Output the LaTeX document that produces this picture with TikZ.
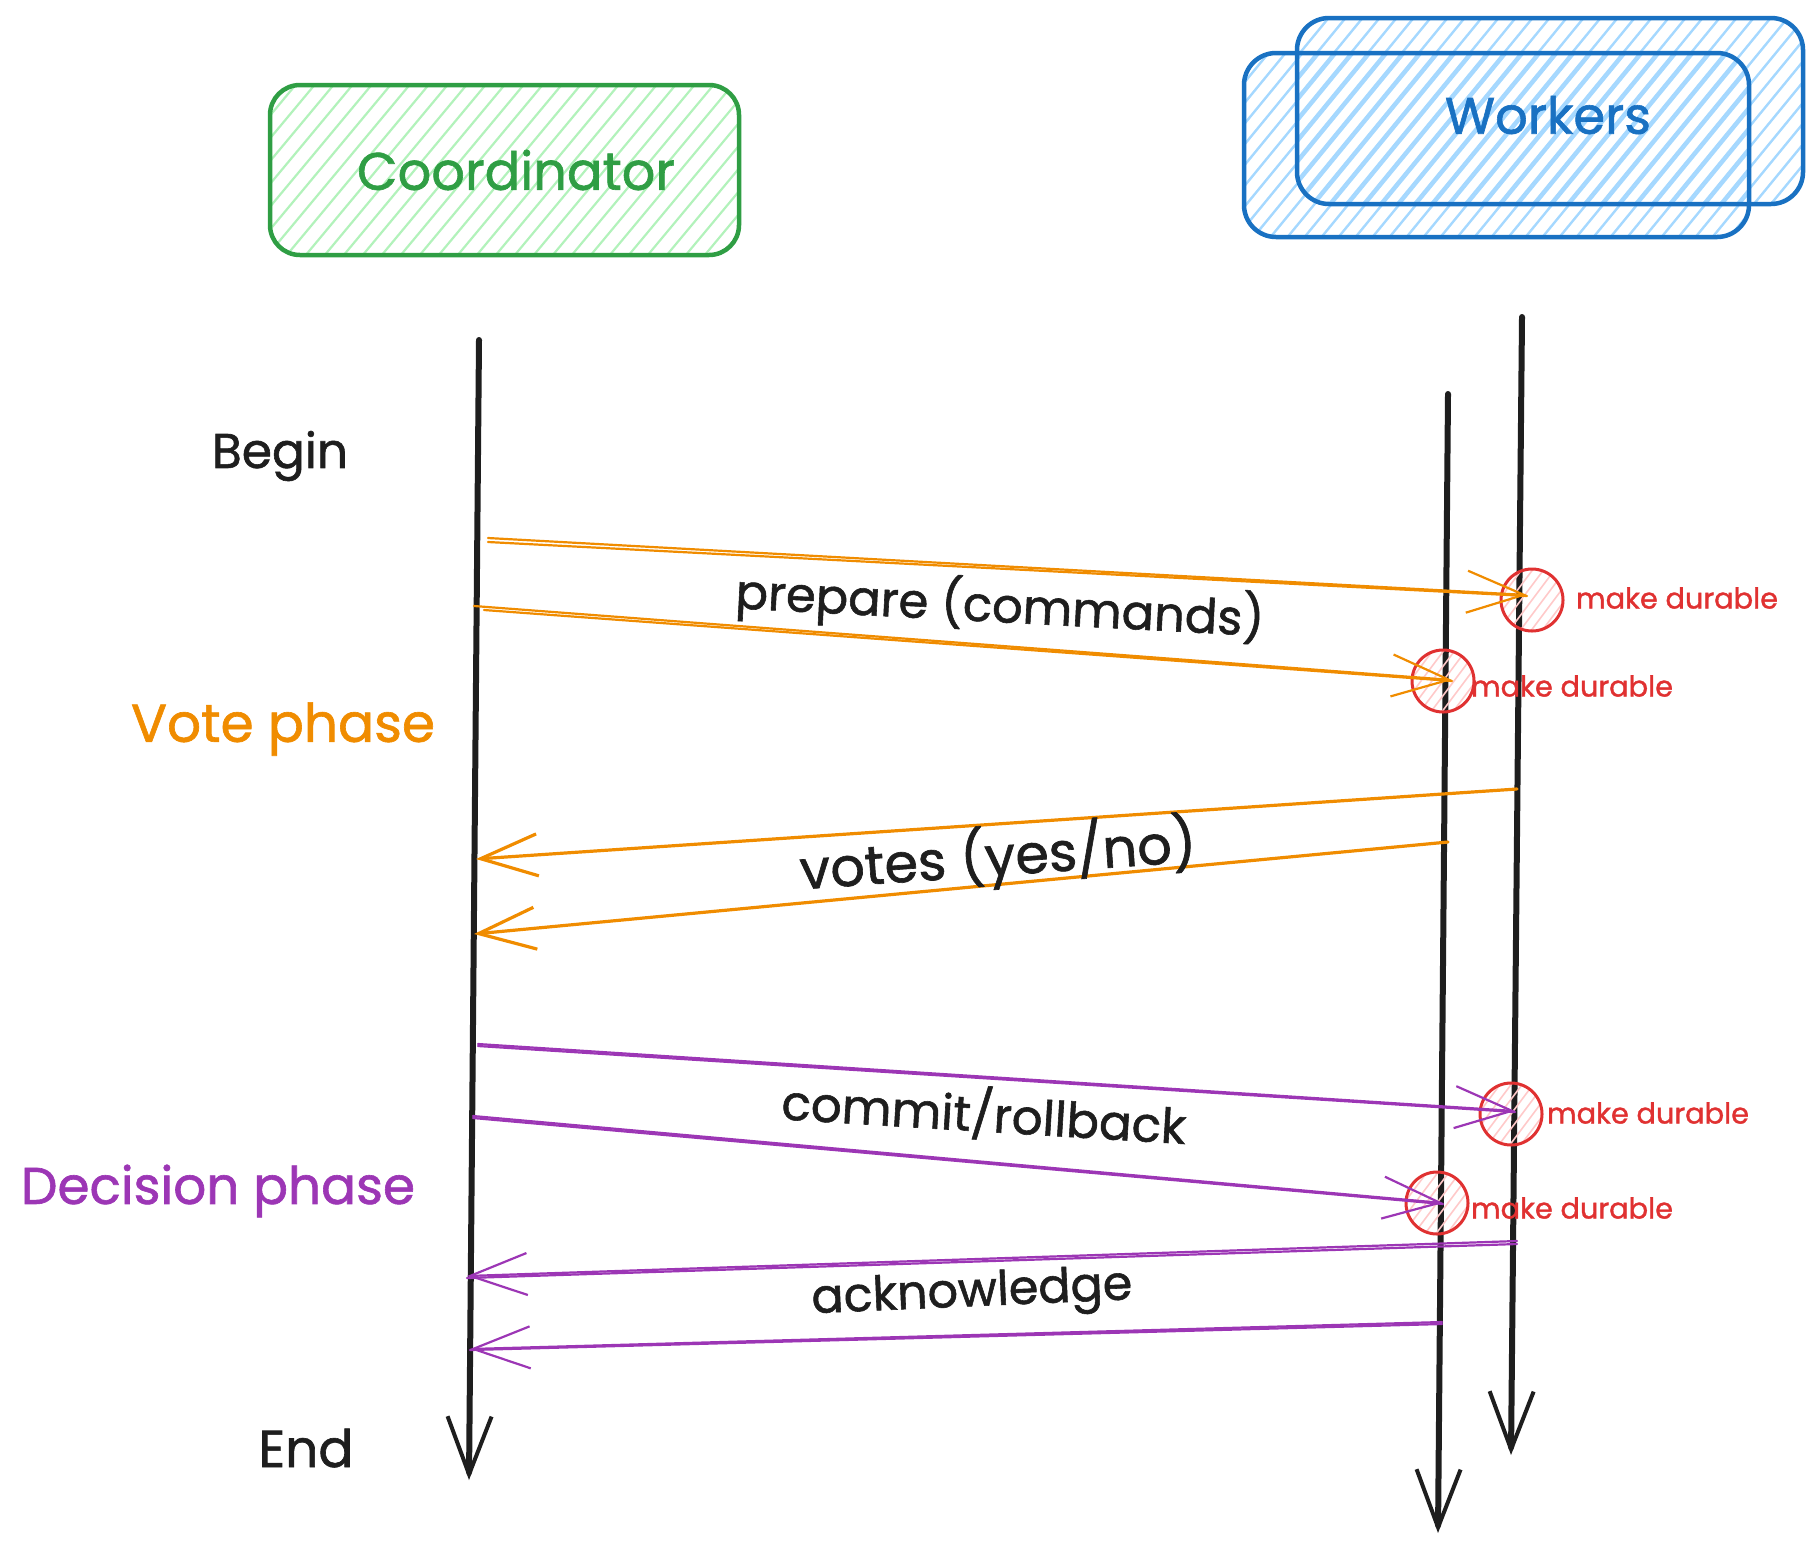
\documentclass[tikz,border=0pt]{standalone}
\usepackage{graphicx}
\usepackage{fontspec}
\setmainfont{Poppins}[FakeBold=1.2]
\usetikzlibrary{arrows.meta,calc}
\definecolor{ink}{HTML}{1E1E1E}
\definecolor{cgreen}{HTML}{2F9E44}
\definecolor{hgreen}{HTML}{B2F2BB}
\definecolor{cblue}{HTML}{1971C2}
\definecolor{hblue}{HTML}{A5D8FF}
\definecolor{cred}{HTML}{E03131}
\definecolor{hred}{HTML}{FFC9C9}
\definecolor{corange}{HTML}{F08C00}
\definecolor{cpurple}{HTML}{9C36B5}
\newcommand\fitw[2]{\resizebox{#1pt}{!}{#2}}
\begin{document}
\begin{tikzpicture}[x=1pt,y=-1pt,
  lbl/.style={inner sep=0pt, anchor=center},
  life/.style={ink, line width=6pt, line cap=round, -{Straight Barb[length=58pt,width=44pt,line width=4pt]}},
  msgtip/.style={-{Straight Barb[length=57pt,width=42pt]}},
  omsg/.style={corange, line width=2.2pt, line cap=round},
  omsgb/.style={corange, line width=3.2pt, line cap=round},
  pmsg/.style={cpurple, line width=2.2pt, line cap=round},
  ghatch/.style={hgreen, line width=2.2pt},
  bhatch/.style={hblue, line width=2.4pt},
  rhatch/.style={hred, line width=1.6pt},
  durable/.style={circle, draw=cred, line width=3pt, minimum size=62pt, inner sep=0pt,
    path picture={\foreach \k in {-6,...,6}{\draw[rhatch] ($(path picture bounding box.center)+(\k*11-30,40)$) -- ++(60,-80);}}},
  durtxt/.style={lbl, text=cred},
  roundbox/.style={draw, line width=4.5pt, inner sep=0pt}
]
\useasboundingbox (0,0) rectangle (1819,1551);

% ---------- Coordinator box ----------
\begin{scope}
  \clip[rounded corners=30pt] (270,85) rectangle (739,255);
  \foreach \x in {110,129,...,760} \draw[ghatch] (\x,262) -- ++(150,-180);
\end{scope}
\node[roundbox, draw=cgreen, rounded corners=30pt, minimum width=469pt, minimum height=170pt] (coordbox) at (504.5,170) {};
\node[lbl, text=cgreen] (coordtext) at (516,170) {\fitw{318}{Coordinator}};

% ---------- Workers boxes ----------
\begin{scope}
  \clip[rounded corners=32pt] (1297,18) rectangle (1803,204);
  \foreach \x in {1120,1137,...,1810} \draw[bhatch] (\x,210) -- ++(160,-195);
\end{scope}
\begin{scope}
  \clip[rounded corners=32pt] (1244,53) rectangle (1749,237);
  \foreach \x in {1060,1077,...,1760} \draw[bhatch] (\x,245) -- ++(160,-195);
\end{scope}
\node[roundbox, draw=cblue, rounded corners=32pt, minimum width=506pt, minimum height=186pt] (wback) at (1550,111) {};
\node[roundbox, draw=cblue, rounded corners=32pt, minimum width=505pt, minimum height=184pt] (wfront) at (1496.5,145) {};
\node[lbl, text=cblue] (wtext) at (1548,115) {\fitw{206}{Workers}};

% ---------- Lifelines ----------
\coordinate (ctop) at (479,340);
\coordinate (cbot) at (469,1480);
\coordinate (w1top) at (1448,394);
\coordinate (w1bot) at (1438,1533);
\coordinate (w2top) at (1522,317);
\coordinate (w2bot) at (1511,1455);
\draw[life] (ctop) -- (cbot);
\draw[life] (w1top) -- (w1bot);
\draw[life] (w2top) -- (w2bot);

% ---------- side labels ----------
\node[lbl, text=ink] (begin) at (280,456) {\fitw{136}{Begin}};
\node[lbl, text=corange] (vote) at (283,729) {\fitw{304}{Vote phase}};
\node[lbl, text=cpurple] (decision) at (218,1191) {\fitw{394}{Decision phase}};
\node[lbl, text=ink] (endlbl) at (306,1448) {\fitw{95}{End}};

% ---------- make durable circles ----------
\node[durable] (d1) at (1532,600) {};
\node[durable] (d2) at (1443,681) {};
\node[durable] (d3) at (1511,1114) {};
\node[durable] (d4) at (1437,1203) {};
\node[durtxt] (t1) at (1677,598) {\fitw{202}{make durable}};
\node[durtxt] (t2) at (1572,686) {\fitw{202}{make durable}};
\node[durtxt] (t3) at (1648,1113) {\fitw{202}{make durable}};
\node[durtxt] (t4) at (1572,1208) {\fitw{202}{make durable}};

% ---------- message endpoints ----------
\coordinate (p1s) at (488,538);  \coordinate (p1e) at (1527,595);
\coordinate (p2s) at (474,606);  \coordinate (p2e) at (1452,680);
\coordinate (v1s) at (1517,789); \coordinate (v1e) at (476,859);
\coordinate (v2s) at (1448,842); \coordinate (v2e) at (474,934);
\coordinate (c1s) at (478,1044); \coordinate (c1e) at (1515,1111);
\coordinate (c2s) at (473,1116); \coordinate (c2e) at (1443,1203);
\coordinate (a1s) at (1517,1241); \coordinate (a1e) at (467,1276);
\coordinate (a2s) at (1442,1322); \coordinate (a2e) at (470,1349);

% prepare
\draw[omsg, msgtip] (p1s) -- (p1e);
\draw[omsg] ([yshift=-4pt]p1s) -- ([yshift=-1pt]p1e);
\draw[omsg, msgtip] (p2s) -- (p2e);
\draw[omsg] ([yshift=-4pt,xshift=10pt]p2s) -- ([yshift=-1pt]p2e);
% votes
\draw[omsgb, msgtip] (v1s) -- (v1e);
\draw[omsgb, msgtip] (v2s) -- (v2e);
% commit
\draw[pmsg, msgtip] (c1s) -- (c1e);
\draw[pmsg] ([yshift=-2pt]c1s) -- ([yshift=-1pt]c1e);
\draw[pmsg, msgtip] (c2s) -- (c2e);
\draw[pmsg] ([yshift=-2pt]c2s) -- ([yshift=-1pt]c2e);
% acknowledge
\draw[pmsg, msgtip] (a1s) -- (a1e);
\draw[pmsg] ([yshift=-3pt]a1s) -- ([yshift=-2pt]a1e);
\draw[pmsg, msgtip] (a2s) -- (a2e);
\draw[pmsg] ([yshift=-2pt]a2s) -- ([yshift=-1pt]a2e);

% ---------- message labels ----------
\node[lbl, text=ink, rotate=-3] (prep) at (1000,606) {\fitw{529}{prepare (commands)}};
\node[lbl, text=ink, rotate=4] (votes) at (998,857) {\fitw{397}{votes (yes/no)}};
\node[lbl, text=ink, rotate=-3.5] (commit) at (984,1113) {\fitw{405}{commit/rollback}};
\node[lbl, text=ink, rotate=2.5] (ack) at (972,1295) {\fitw{321}{acknowledge}};
\end{tikzpicture}
\end{document}
